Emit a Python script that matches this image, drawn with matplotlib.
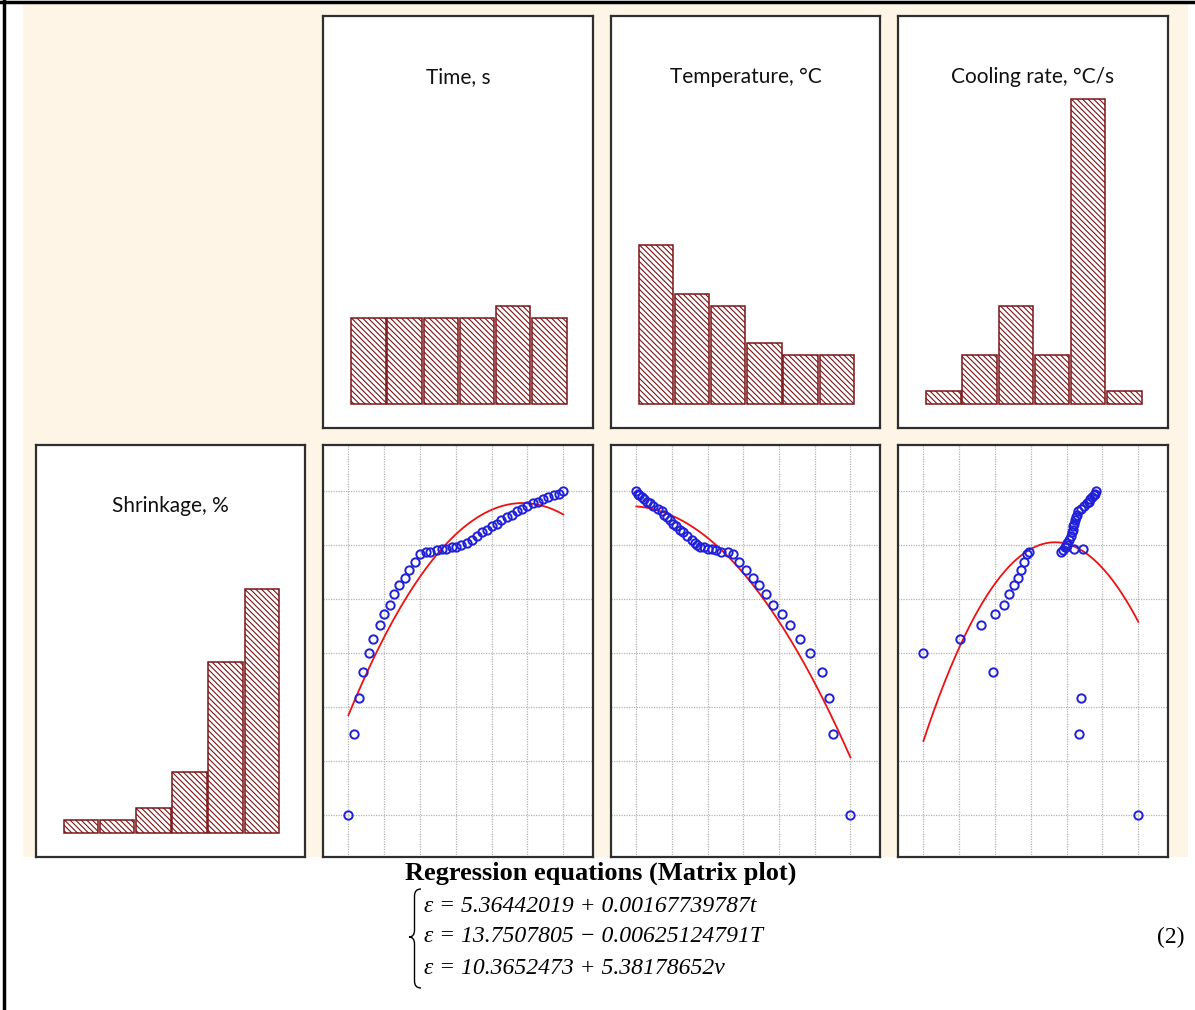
import numpy as np
import matplotlib
matplotlib.use("Agg")
import matplotlib.pyplot as plt
from matplotlib.path import Path
from matplotlib.patches import PathPatch, Rectangle

# histogram counts, 6 bins per variable (diagonal of the matrix plot)
time_counts = [7, 7, 7, 7, 8, 7]
temp_counts = [13, 9, 8, 5, 4, 4]
cool_counts = [1, 4, 8, 4, 25, 1]
shrink_counts = [1, 1, 2, 5, 14, 20]

# scatter values, in grid units (0 = min, 6 = max of each variable)
shrinkage = [0.00, 1.50, 2.16, 2.65, 3.00, 3.27, 3.52, 3.72, 3.90, 4.10, 4.26,
             4.39, 4.55, 4.69, 4.83, 4.88, 4.88, 4.91, 4.93, 4.93, 4.96, 4.96,
             5.00, 5.04, 5.10, 5.18, 5.24, 5.29, 5.35, 5.40, 5.46, 5.52, 5.57,
             5.63, 5.68, 5.73, 5.78, 5.81, 5.85, 5.90, 5.94, 5.95, 6.00]
time_s = [0.00, 0.15, 0.29, 0.40, 0.57, 0.69, 0.87, 0.99, 1.16, 1.28, 1.41,
          1.57, 1.70, 1.86, 1.99, 2.18, 2.29, 2.46, 2.62, 2.73, 2.88, 3.00,
          3.15, 3.30, 3.44, 3.58, 3.72, 3.86, 4.00, 4.14, 4.27, 4.43, 4.57,
          4.71, 4.85, 5.00, 5.15, 5.30, 5.44, 5.58, 5.73, 5.87, 6.00]
temperature = [6.00, 5.51, 5.39, 5.21, 4.86, 4.58, 4.30, 4.08, 3.84, 3.63, 3.45,
               3.28, 3.07, 2.89, 2.71, 2.57, 2.36, 2.24, 2.13, 2.02, 1.90, 1.78,
               1.70, 1.64, 1.55, 1.42, 1.32, 1.22, 1.10, 1.03, 0.94, 0.85, 0.78,
               0.71, 0.62, 0.47, 0.37, 0.30, 0.22, 0.15, 0.07, 0.04, 0.00]
cooling = [6.00, 4.34, 4.39, 1.94, 0.00, 1.03, 1.61, 1.99, 2.24, 2.40, 2.53,
           2.65, 2.72, 2.82, 2.89, 2.94, 3.85, 3.90, 4.45, 4.20, 3.95, 3.98,
           4.00, 4.02, 4.07, 4.12, 4.15, 4.17, 4.19, 4.21, 4.23, 4.26, 4.29,
           4.33, 4.40, 4.48, 4.56, 4.61, 4.66, 4.72, 4.77, 4.80, 4.83]

titles = ["Time, s", "Temperature, °C", "Cooling rate, °C/s"]
shrink_title = "Shrinkage, %"

eq_title = "Regression equations (Matrix plot)"
equations = ["ε = 5.36442019 + 0.00167739787t",
             "ε = 13.7507805 − 0.00625124791T",
             "ε = 10.3652473 + 5.38178652v"]

MAROON = "#7a1518"
BEIGE = "#fef5e6"
plt.rcParams["hatch.linewidth"] = 0.8
plt.rcParams["hatch.color"] = MAROON

W, H = 1195, 1010
fig = plt.figure(figsize=(W / 100, H / 100), dpi=100)
fig.patch.set_facecolor("white")

# background layer in pixel coords
bg = fig.add_axes([0, 0, 1, 1])
bg.set_xlim(0, W)
bg.set_ylim(H, 0)
bg.axis("off")
bg.add_patch(Rectangle((23, 4), 1165, 853, facecolor=BEIGE, edgecolor="none"))
bg.plot([0, W], [1.5, 1.5], color="black", lw=2.5)
bg.plot([4.5, 4.5], [0, H], color="black", lw=2.5)


def box(x0, y0, x1, y1):
    ax = fig.add_axes([x0 / W, 1 - y1 / H, (x1 - x0) / W, (y1 - y0) / H])
    ax.set_facecolor("white")
    for s in ax.spines.values():
        s.set_color("#2e2e2e")
        s.set_linewidth(1.6)
    ax.tick_params(length=0, labelbottom=False, labelleft=False)
    return ax


def hist_panel(ax, counts, title):
    ax.bar(range(len(counts)), counts, width=0.95, color="white",
           edgecolor=MAROON, hatch="\\\\\\\\\\\\", linewidth=1.1)
    ax.set_xlim(-1.25, 6.2)
    ax.set_ylim(-2.0, 31.8)
    ax.set_xticks([])
    ax.set_yticks([])
    ax.text(0.5, 0.852, title, transform=ax.transAxes, ha="center", va="center",
            fontsize=15, family="Lato", color="#111111")


def scatter_panel(ax, x, y):
    ax.set_xticks(range(7))
    ax.set_yticks(range(7))
    ax.grid(True, color="#b5b5b5", linestyle=(0, (1, 1)), linewidth=0.9)
    coef = np.polyfit(x, y, 2)
    xs = np.linspace(min(x), max(x), 200)
    ax.plot(xs, np.polyval(coef, xs), color="#ee1111", lw=1.3, zorder=2)
    ax.plot(x, y, "o", mfc="none", mec="#2020d8", ms=6, mew=1.4, zorder=3)
    ax.set_xlim(-0.71, 6.83)
    ax.set_ylim(-0.78, 6.86)


cols = [(36, 305), (323, 593), (611, 880), (898, 1168)]
row1 = (16, 428)
row2 = (445, 857)

for (x0, x1), counts, title in zip(cols[1:], [time_counts, temp_counts, cool_counts], titles):
    hist_panel(box(x0, row1[0], x1, row1[1]), counts, title)

hist_panel(box(cols[0][0], row2[0], cols[0][1], row2[1]), shrink_counts, shrink_title)

for (x0, x1), xv in zip(cols[1:], [time_s, temperature, cooling]):
    scatter_panel(box(x0, row2[0], x1, row2[1]), xv, shrinkage)

# equations block
bg.text(601, 873, eq_title, ha="center", va="center", fontsize=19,
        family="Liberation Serif", weight="bold")
for i, eq in enumerate(equations):
    bg.text(424, 906 + 31 * i, eq, ha="left", va="center", fontsize=17,
            family="Liberation Serif", style="italic")
bg.text(1185, 937, "(2)", ha="right", va="center", fontsize=17, family="Liberation Serif")

# curly brace
xa, xm, xt, r = 421, 414.5, 409, 7
yt, ymid, yb = 889, 937, 988
verts = [(xa, yt), (xm, yt), (xm, yt + r), (xm, ymid - r), (xm, ymid), (xt, ymid),
         (xm, ymid), (xm, ymid + r), (xm, yb - r), (xm, yb), (xa, yb)]
codes = [Path.MOVETO, Path.CURVE3, Path.CURVE3, Path.LINETO, Path.CURVE3, Path.CURVE3,
         Path.CURVE3, Path.CURVE3, Path.LINETO, Path.CURVE3, Path.CURVE3]
bg.add_patch(PathPatch(Path(verts, codes), facecolor="none", edgecolor="black", lw=1.0))

fig.savefig("out.png", dpi=100)
